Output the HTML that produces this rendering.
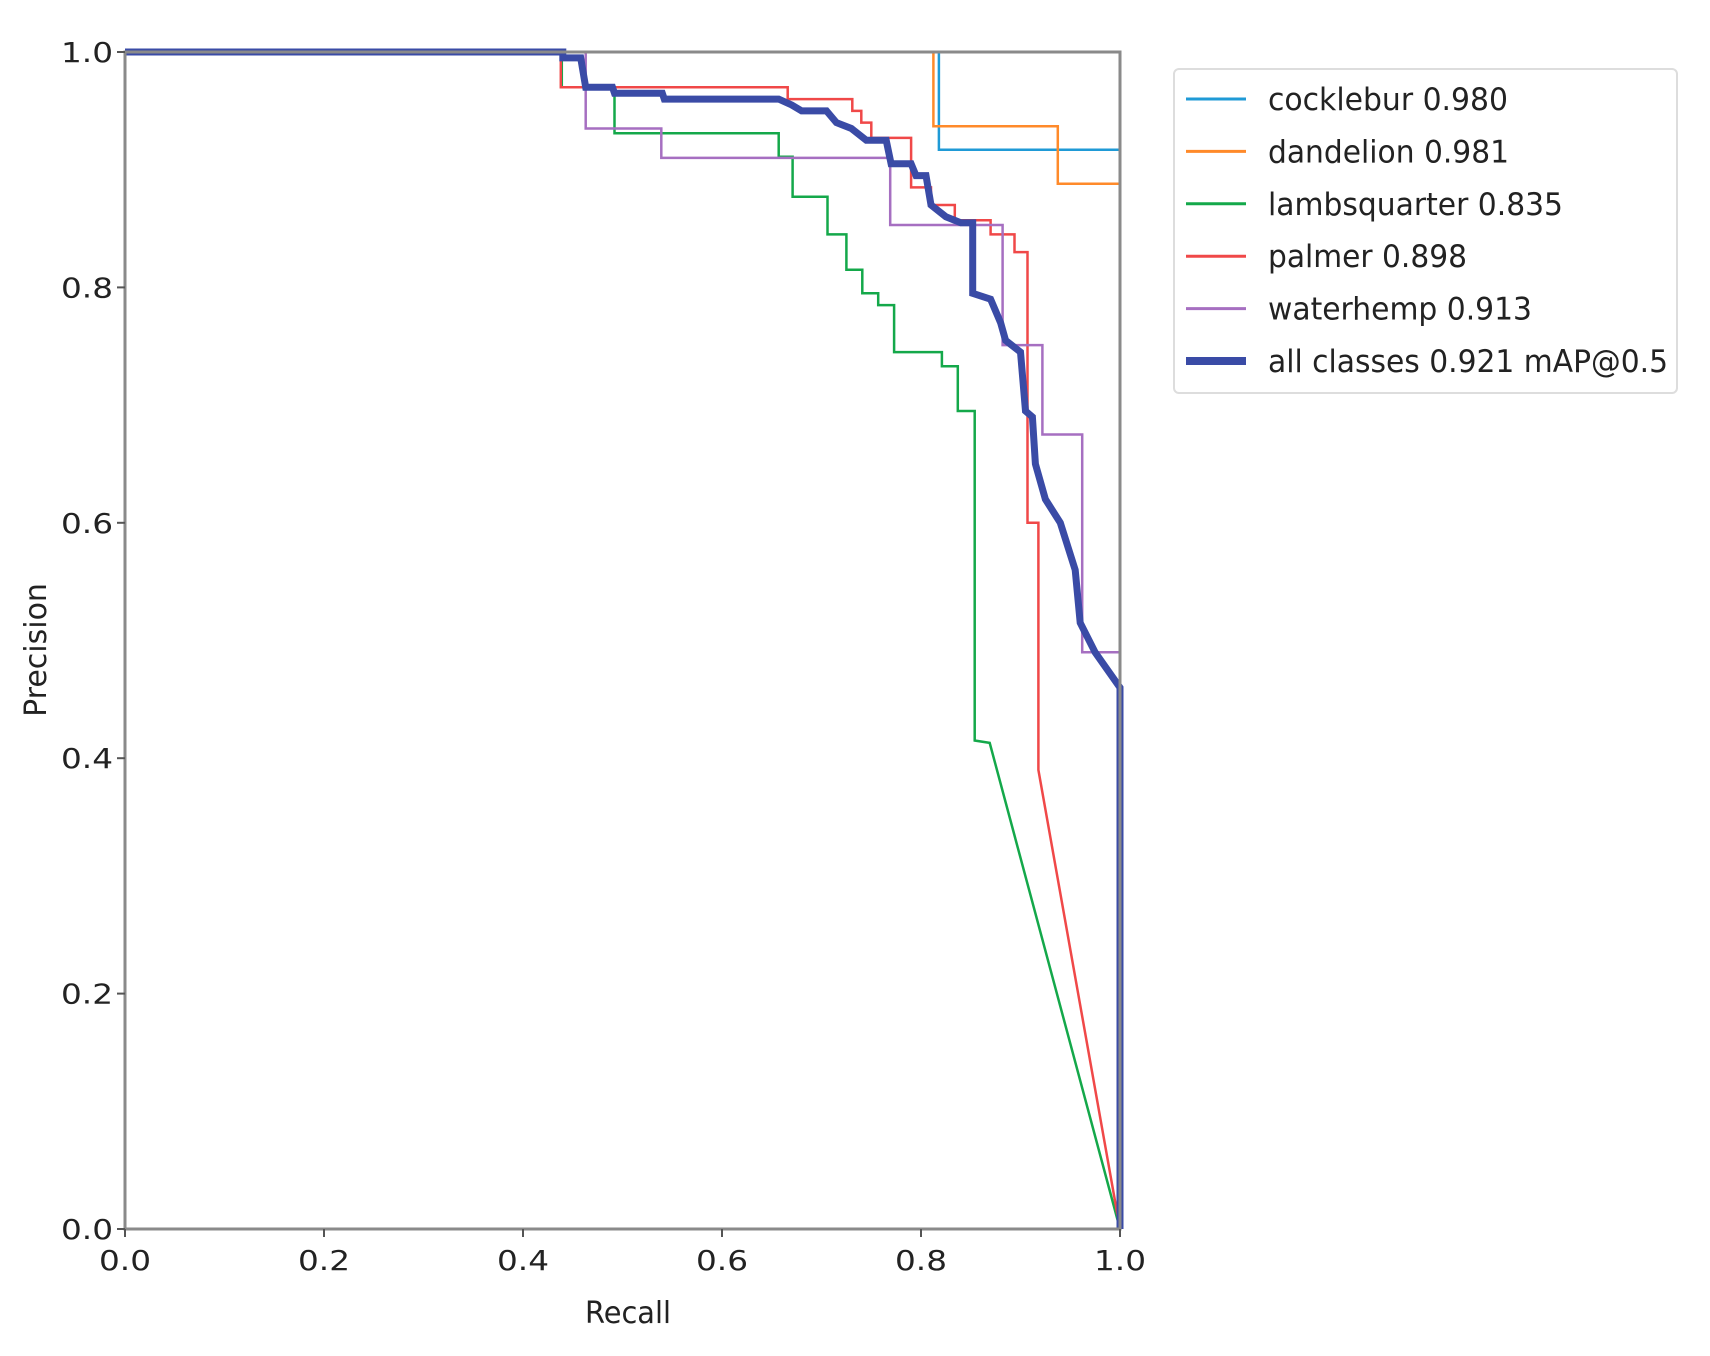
<!DOCTYPE html>
<html><head><meta charset="utf-8"><style>
html,body{margin:0;padding:0;background:#fff}
svg{display:block}
text{font-family:"DejaVu Sans","Liberation Sans",sans-serif;fill:#222}
</style></head><body>
<svg id="chart" width="1710" height="1356" viewBox="0 0 1710 1356" xmlns="http://www.w3.org/2000/svg">
<g id="series"></g>
<g id="axes"></g>
<g id="legend"></g>
</svg>
<script>
const xTicks = [0, 0.2, 0.4, 0.6, 0.8, 1.0];
const yTicks = [0, 0.2, 0.4, 0.6, 0.8, 1.0];
const tickLabels = ["0.0","0.2","0.4","0.6","0.8","1.0"];
const seriesNames = ["cocklebur 0.980","dandelion 0.981","lambsquarter 0.835","palmer 0.898","waterhemp 0.913","all classes 0.921 mAP@0.5"];
const seriesColors = ["#1f9ad6","#ff8a2a","#14a84a","#f04848","#a66fc1","#3a4ba6"];
const cocklebur = [[0,1],[0.818,1],[0.818,0.917],[1,0.917],[1,0.88]];
const dandelion = [[0,1],[0.8125,1],[0.8125,0.937],[0.9375,0.937],[0.9375,0.888],[1,0.888],[1,0]];
const lambsquarter = [[0,1],[0.439,1],[0.439,0.97],[0.492,0.97],[0.492,0.931],[0.657,0.931],[0.657,0.911],[0.671,0.911],[0.671,0.877],[0.706,0.877],[0.706,0.845],[0.725,0.845],[0.725,0.815],[0.741,0.815],[0.741,0.795],[0.757,0.795],[0.757,0.785],[0.773,0.785],[0.773,0.745],[0.821,0.745],[0.821,0.733],[0.837,0.733],[0.837,0.695],[0.854,0.695],[0.854,0.415],[0.869,0.413],[1,0]];
const palmer = [[0,1],[0.438,1],[0.438,0.97],[0.666,0.97],[0.666,0.96],[0.731,0.96],[0.731,0.95],[0.74,0.95],[0.74,0.94],[0.75,0.94],[0.75,0.927],[0.79,0.927],[0.79,0.885],[0.81,0.885],[0.81,0.87],[0.834,0.87],[0.834,0.857],[0.87,0.857],[0.87,0.845],[0.894,0.845],[0.894,0.83],[0.907,0.83],[0.907,0.6],[0.918,0.6],[0.918,0.39],[1,0]];
const waterhemp = [[0,1],[0.463,1],[0.463,0.935],[0.539,0.935],[0.539,0.91],[0.769,0.91],[0.769,0.853],[0.882,0.853],[0.882,0.751],[0.922,0.751],[0.922,0.675],[0.962,0.675],[0.962,0.49],[1,0.49],[1,0.47]];
const allClasses = [[0,1],[0.44,1],[0.44,0.995],[0.458,0.995],[0.463,0.97],[0.49,0.97],[0.492,0.965],[0.54,0.965],[0.542,0.96],[0.657,0.96],[0.67,0.955],[0.68,0.95],[0.705,0.95],[0.715,0.94],[0.73,0.935],[0.745,0.925],[0.765,0.925],[0.77,0.905],[0.79,0.905],[0.795,0.895],[0.805,0.895],[0.81,0.87],[0.825,0.86],[0.84,0.855],[0.852,0.855],[0.852,0.795],[0.87,0.79],[0.88,0.77],[0.885,0.755],[0.9,0.745],[0.905,0.695],[0.912,0.69],[0.915,0.65],[0.925,0.62],[0.94,0.6],[0.955,0.56],[0.96,0.515],[0.975,0.49],[1,0.46],[1,0]];
const allSeries = [cocklebur, dandelion, lambsquarter, palmer, waterhemp, allClasses];
const legendTextLen = [240,241,295,199,264,400];

const NS = "http://www.w3.org/2000/svg";
const X0 = 125, X1 = 1120, Y0 = 1229, Y1 = 52;
function xs(v){ return X0 + v*(X1-X0); }
function ys(v){ return Y0 - v*(Y0-Y1); }
function mk(tag, attrs, parent){ const e=document.createElementNS(NS,tag); for(const k in attrs) e.setAttribute(k,attrs[k]); parent.appendChild(e); return e; }

const sg = document.getElementById('series');
const keys = ["cocklebur","dandelion","lambsquarter","palmer","waterhemp","all-classes"];
allSeries.forEach((pts,i)=>{
  const d = pts.map((p,j)=>(j?'L':'M')+xs(p[0]).toFixed(1)+','+ys(p[1]).toFixed(1)).join(' ');
  const path = mk('path',{d:d,fill:'none',stroke:seriesColors[i],'stroke-width':i===5?7:2.5,'stroke-linejoin':'miter'},sg);
  
  
});

const ag = document.getElementById('axes');
const frame = mk('rect',{x:X0,y:Y1,width:X1-X0,height:Y0-Y1,fill:'none',stroke:'#8a8a8a','stroke-width':3},ag);


xTicks.forEach((v,i)=>{
  const t = mk('line',{x1:xs(v),x2:xs(v),y1:Y0,y2:Y0+8,stroke:'#555','stroke-width':2},ag);
  
  
  const lb = mk('text',{x:xs(v),y:Y0+41,'font-size':28,'text-anchor':'middle',textLength:52,lengthAdjust:'spacingAndGlyphs'},ag);
  lb.textContent = tickLabels[i];
  
  
});
yTicks.forEach((v,i)=>{
  const t = mk('line',{x1:X0-8,x2:X0,y1:ys(v),y2:ys(v),stroke:'#555','stroke-width':2},ag);
  
  
  const lb = mk('text',{x:X0-12,y:ys(v)+10,'font-size':28,'text-anchor':'end',textLength:52,lengthAdjust:'spacingAndGlyphs'},ag);
  lb.textContent = tickLabels[i];
  
  
});
const xt = mk('text',{x:628,y:1323,'font-size':30,'text-anchor':'middle',textLength:86,lengthAdjust:'spacingAndGlyphs'},ag);
xt.textContent = 'Recall';


const yt = mk('text',{x:0,y:0,'font-size':30,'text-anchor':'middle',transform:'translate(46,650) rotate(-90)'},ag);
yt.textContent = 'Precision';



const lg = document.getElementById('legend');
const box = mk('rect',{x:1174,y:69,width:503,height:324,rx:5,fill:'#fff',stroke:'#dddddd','stroke-width':2},lg);


seriesNames.forEach((n,i)=>{
  const cy = 99 + i*52.4;
  const ln = mk('line',{x1:1186,x2:1246,y1:cy,y2:cy,stroke:seriesColors[i],'stroke-width':i===5?8:3},lg);
  
  
  const tx = mk('text',{x:1268,y:cy+11,'font-size':31,textLength:legendTextLen[i],lengthAdjust:'spacingAndGlyphs'},lg);
  tx.textContent = n;
  
  
});
</script>
</body></html>
